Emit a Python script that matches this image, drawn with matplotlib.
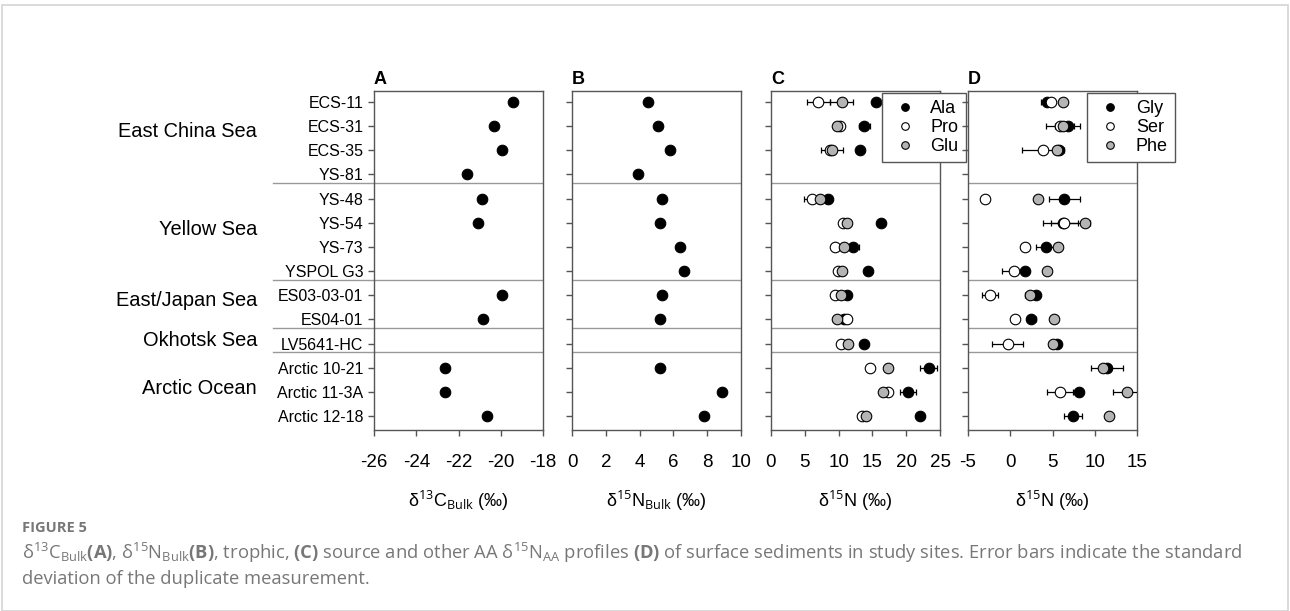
import numpy as np
import matplotlib
matplotlib.use("Agg")
import matplotlib.pyplot as plt
from matplotlib.patches import Rectangle

plt.rcParams['font.family'] = ['Liberation Sans', 'DejaVu Sans']
plt.rcParams['mathtext.fontset'] = 'custom'
plt.rcParams['mathtext.rm'] = 'Open Sans'
plt.rcParams['mathtext.bf'] = 'Open Sans:bold'
plt.rcParams['axes.unicode_minus'] = False

nan = np.nan

# sample sites, top to bottom
sites = ["ECS-11", "ECS-31", "ECS-35", "YS-81", "YS-48", "YS-54", "YS-73", "YSPOL G3",
         "ES03-03-01", "ES04-01", "LV5641-HC", "Arctic 10-21", "Arctic 11-3A", "Arctic 12-18"]
regions = ["East China Sea", "Yellow Sea", "East/Japan Sea", "Okhotsk Sea", "Arctic Ocean"]
region_y = [1.23, 5.26, 8.23, 9.88, 11.86]
separators = [3.35, 7.35, 9.35, 10.35]

# panel A / B
d13c_bulk = [-19.4, -20.3, -19.95, -21.6, -20.9, -21.1, nan, nan, -19.95, -20.85, nan, -22.65, -22.65, -20.65]
d15n_bulk = [4.5, 5.1, 5.8, 3.9, 5.3, 5.2, 6.4, 6.6, 5.3, 5.2, nan, 5.2, 8.9, 7.8]

# panel C (trophic / source AA)
ala = [15.5, 13.8, 13.1, nan, 8.4, 16.3, 12.2, 14.4, 11.3, 10.8, 13.8, 23.3, 20.3, 22.1]
ala_err = [0, 0.8, 0, 0, 0, 0.3, 0.8, 0, 0, 0, 0, 1.2, 1.2, 0.6]
pro = [7.0, 10.2, 8.8, nan, 6.0, 10.7, 9.5, 9.9, 9.5, 11.2, 10.3, 14.6, 17.3, 13.4]
pro_err = [1.7, 0.5, 0, 0, 1.1, 0.3, 0, 0, 0, 0.6, 0, 0, 0.4, 0.6]
glu = [10.5, 9.8, 9.0, nan, 7.3, 11.2, 10.8, 10.5, 10.3, 9.7, 11.4, 17.3, 16.6, 14.0]
glu_err = [1.7, 0, 1.6, 0, 0, 0.5, 0, 0, 0, 0.6, 0, 0, 0, 0]

# panel D (other AA)
gly = [4.4, 6.8, 5.8, nan, 6.4, 6.2, 4.2, 1.7, 3.0, 2.5, 5.5, 11.4, 8.1, 7.4]
gly_err = [0.8, 1.5, 0, 0, 1.85, 2.3, 1.15, 0, 0, 0.5, 0, 1.9, 0.4, 1.05]
ser = [4.8, 5.9, 3.85, nan, -3.0, 6.4, 1.7, 0.5, -2.4, 0.6, -0.3, nan, 5.9, nan]
ser_err = [0, 1.7, 2.5, 0, 0, 1.6, 0, 1.45, 1.0, 0, 1.85, 0, 1.5, 0]
phe = [6.2, 6.3, 5.5, nan, 3.3, 8.9, 5.6, 4.4, 2.3, 5.2, 5.1, 11.0, 13.8, 11.7]
phe_err = [0, 0, 0, 0, 0.5, 0.5, 0, 0.4, 0.6, 0, 0.5, 0, 1.65, 0]

y = np.arange(len(sites))
spine_col = '#555555'
sep_col = '#999999'
fill = {'black': 'black', 'white': 'white', 'gray': '#b4b4b4'}

fig = plt.figure(figsize=(12.9, 6.11), dpi=100)
W, H = 1290, 611
lefts = [374, 572, 771, 968]
axes = [fig.add_axes([l / W, 1 - 430 / H, 169 / W, 339 / H]) for l in lefts]


def series(ax, vals, errs, color, label=None):
    vals = np.array(vals, dtype=float)
    if errs is not None:
        ax.errorbar(vals, y, xerr=errs, fmt='none', ecolor='black', elinewidth=0.9,
                    capsize=2.5, capthick=0.9, zorder=3)
    ax.plot(vals, y, 'o', ls='none', ms=7.6, mfc=fill[color], mec='black', mew=0.8,
            zorder=4, label=label)


for ax, letter in zip(axes, "ABCD"):
    ax.set_ylim(13.58, -0.455)
    ax.set_yticks(y)
    for s in ax.spines.values():
        s.set_color(spine_col)
        s.set_linewidth(1)
    ax.tick_params(colors=spine_col, length=4, width=1, labelsize=13.5, labelcolor='black')
    ax.tick_params(axis='x', pad=13)
    ax.tick_params(axis='y', labelsize=11.5)
    for sy in separators:
        ax.axhline(sy, color=sep_col, lw=1, zorder=1)
    ax.text(0, 1.008, letter, transform=ax.transAxes, fontsize=13, fontweight='bold',
            ha='left', va='bottom')

axA, axB, axC, axD = axes
axA.set_yticklabels(sites)
for ax in axes[1:]:
    ax.set_yticklabels([])

# separators extend into the label column
for sy in separators:
    axA.plot([-0.598, 0], [sy, sy], color=sep_col, lw=1, transform=axA.get_yaxis_transform(),
             clip_on=False)
for name, ry in zip(regions, region_y):
    axA.text(-0.692, ry, name, transform=axA.get_yaxis_transform(), ha='right', va='center',
             fontsize=14.4)

series(axA, d13c_bulk, None, 'black')
axA.set_xlim(-26, -18)
axA.set_xticks(np.arange(-26, -17, 2))
axA.set_xlabel(r'δ$^{13}$C$_{\rm Bulk}$ (‰)', fontsize=13, labelpad=13)

series(axB, d15n_bulk, None, 'black')
axB.set_xlim(0, 10)
axB.set_xticks(np.arange(0, 11, 2))
axB.set_xlabel(r'δ$^{15}$N$_{\rm Bulk}$ (‰)', fontsize=13, labelpad=13)

series(axC, ala, ala_err, 'black', 'Ala')
series(axC, pro, pro_err, 'white', 'Pro')
series(axC, glu, glu_err, 'gray', 'Glu')
axC.set_xlim(0, 25)
axC.set_xticks(np.arange(0, 26, 5))
axC.set_xlabel(r'δ$^{15}$N (‰)', fontsize=13, labelpad=13)

series(axD, gly, gly_err, 'black', 'Gly')
series(axD, ser, ser_err, 'white', 'Ser')
series(axD, phe, phe_err, 'gray', 'Phe')
axD.set_xlim(-5, 15)
axD.set_xticks(np.arange(-5, 16, 5))
axD.set_xlabel(r'δ$^{15}$N (‰)', fontsize=13, labelpad=13)

for ax, xa in ((axC, 0.655), (axD, 0.704)):
    leg = ax.legend(loc='upper left', bbox_to_anchor=(xa, 0.994), fontsize=13, markerscale=0.72,
                    fancybox=False, framealpha=1, edgecolor=spine_col, handletextpad=0.5,
                    borderpad=0.4, labelspacing=0.1, handlelength=1.8, borderaxespad=0)
    leg.get_frame().set_linewidth(1)
    leg.set_zorder(10)

# page frame and caption
fig.patches.append(Rectangle((2 / W, 0), 1286 / W, 1 - 5 / H, transform=fig.transFigure,
                             fill=False, edgecolor='#d4d4d4', lw=1.2))
cap_col = '#777777'
fig.text(22 / W, 1 - 528 / H, 'FIGURE 5', fontsize=10.5, fontweight='bold', color=cap_col,
         family='Open Sans', va='center')
fig.text(22 / W, 1 - 553 / H,
         r'δ$^{13}$C$_{\rm Bulk}$$\bf{(A)}$, δ$^{15}$N$_{\rm Bulk}$$\bf{(B)}$, trophic, $\bf{(C)}$ source '
         r'and other AA δ$^{15}$N$_{\rm AA}$ profiles $\bf{(D)}$ of surface sediments in study sites. '
         r'Error bars indicate the standard',
         fontsize=13.2, color=cap_col, family='Open Sans', va='center')
fig.text(22 / W, 1 - 579 / H, 'deviation of the duplicate measurement.',
         fontsize=13.2, color=cap_col, family='Open Sans', va='center')

fig.savefig('out.png', dpi=100)
